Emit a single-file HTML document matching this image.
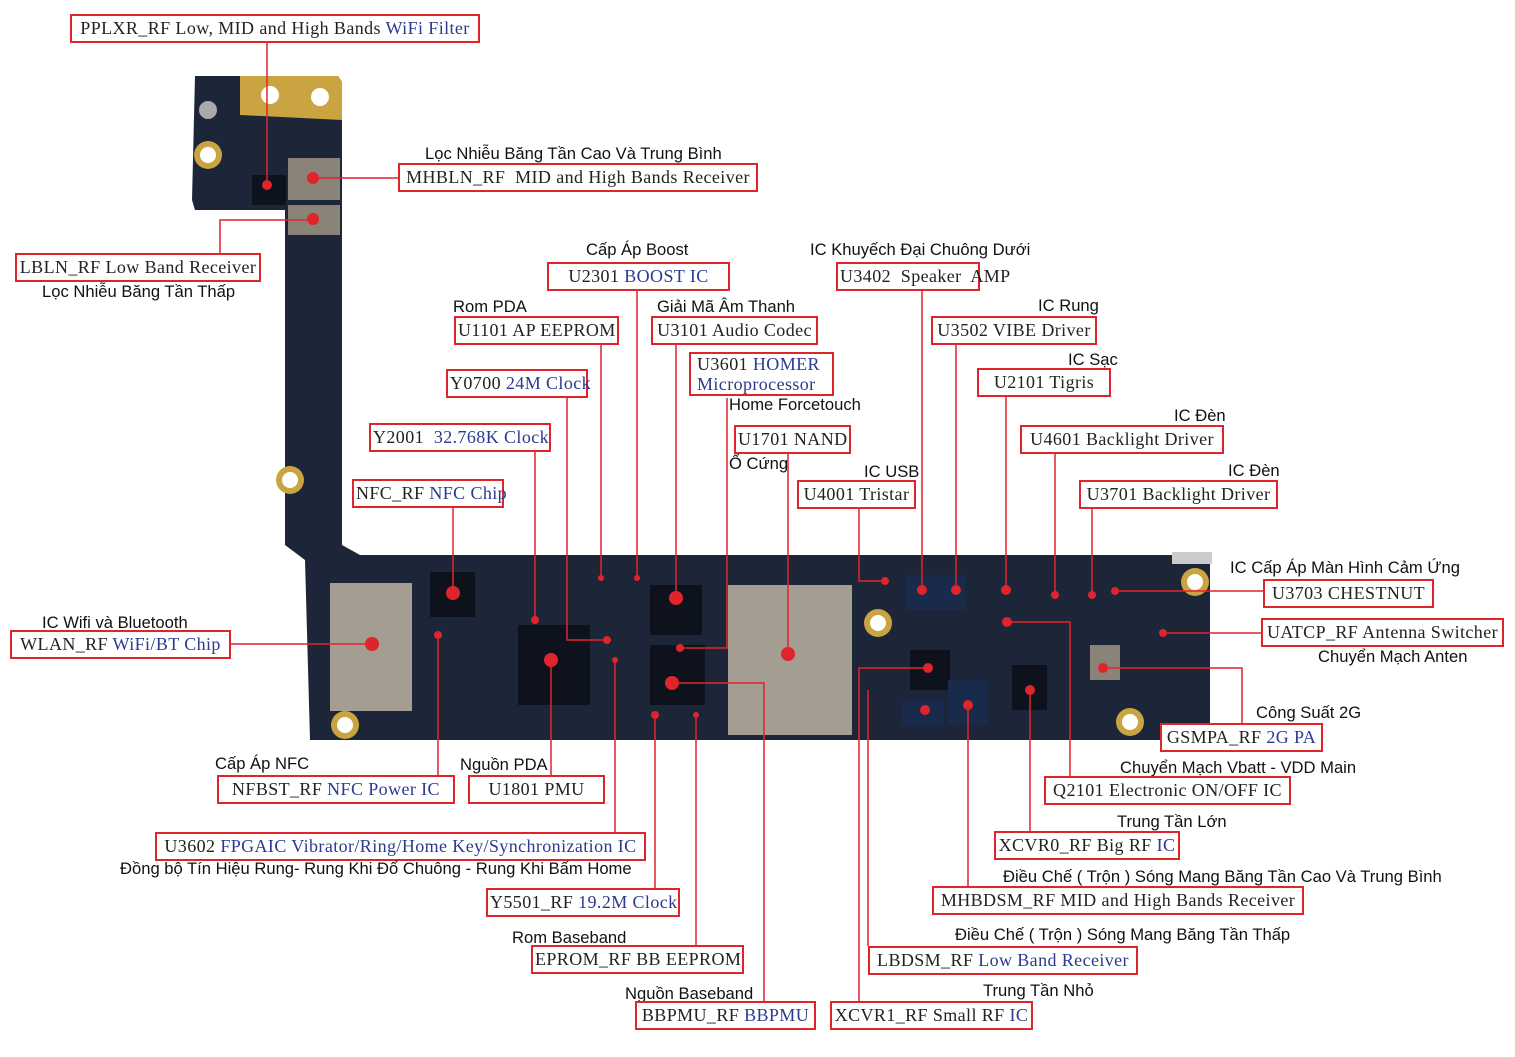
<!DOCTYPE html>
<html><head><meta charset="utf-8"><style>
body{margin:0;background:#fff;}
#c{position:relative;width:1515px;height:1057px;overflow:hidden;background:#fff;}
.b{position:absolute;border:2px solid #e0242b;background:#fff;font-family:"Liberation Serif",serif;font-size:18px;letter-spacing:.4px;color:#222;height:29px;line-height:25px;padding:0 2px;white-space:nowrap;box-sizing:border-box;text-align:center;overflow:visible;}
.b i{font-style:normal;color:#2b3a8f;}
.t{position:absolute;font-family:"Liberation Sans","Noto Sans CJK SC",sans-serif;font-size:16.6px;color:#111;white-space:nowrap;}
svg{position:absolute;left:0;top:0;}
</style></head><body><div id="c">
<svg width="1515" height="1057">
<path d="M195 76 L338 76 L342 82 L342 545 L360 555 L1210 555 L1210 740 L310 740 L305 560 L285 545 L285 210 L195 210 L192 200 Z" fill="#1d2538"/>
<path d="M240 76 L338 76 L342 82 L342 120 L240 115 Z" fill="#c9a440"/>
<circle cx="208" cy="155" r="14" fill="#c9a440"/><circle cx="208" cy="155" r="8" fill="#fff"/>
<circle cx="270" cy="95" r="9" fill="#fff"/><circle cx="320" cy="97" r="9" fill="#fff"/>
<circle cx="208" cy="110" r="9" fill="#aaa"/>
<circle cx="290" cy="480" r="14" fill="#c9a440"/><circle cx="290" cy="480" r="8" fill="#fff"/>
<rect x="288" y="158" width="52" height="42" fill="#8a8478"/>
<rect x="288" y="205" width="52" height="30" fill="#8a8478"/>
<rect x="252" y="175" width="34" height="30" fill="#0e121c"/>
<rect x="330" y="583" width="82" height="128" fill="#a39d92"/>
<rect x="728" y="585" width="124" height="150" fill="#a39d92"/>
<rect x="430" y="572" width="45" height="45" fill="#0e121c"/>
<rect x="518" y="625" width="72" height="80" fill="#0e121c"/>
<rect x="650" y="585" width="52" height="50" fill="#0e121c"/>
<rect x="650" y="645" width="55" height="60" fill="#0e121c"/>
<rect x="905" y="575" width="60" height="35" fill="#1a2a4a"/>
<rect x="910" y="650" width="40" height="40" fill="#0e121c"/>
<rect x="948" y="680" width="40" height="45" fill="#1a2a4a"/>
<rect x="902" y="700" width="42" height="25" fill="#1a2a4a"/>
<rect x="1012" y="665" width="35" height="45" fill="#0e121c"/>
<rect x="1090" y="645" width="30" height="35" fill="#8a8478"/>
<circle cx="878" cy="623" r="14" fill="#c9a440"/><circle cx="878" cy="623" r="8" fill="#fff"/>
<circle cx="345" cy="725" r="14" fill="#c9a440"/><circle cx="345" cy="725" r="8" fill="#fff"/>
<circle cx="1130" cy="722" r="14" fill="#c9a440"/><circle cx="1130" cy="722" r="8" fill="#fff"/>
<circle cx="1195" cy="582" r="14" fill="#c9a440"/><circle cx="1195" cy="582" r="8" fill="#fff"/>
<rect x="1172" y="552" width="40" height="12" fill="#ccc"/>
<g fill="none" stroke="#e0242b" stroke-width="1.5">
<path d="M267 43V185"/><path d="M313 178H398"/><path d="M220 253V220H313"/>
<path d="M637 291V578"/><path d="M922 291V590"/><path d="M601 345V578"/><path d="M676 345V598"/>
<path d="M956 345V590"/><path d="M727 398V648H680"/><path d="M1006 397V590"/>
<path d="M567 398V640H607"/><path d="M535 452V620"/><path d="M788 454V654"/>
<path d="M1055 454V595"/><path d="M453 508V593"/><path d="M859 509V581H885"/>
<path d="M1092 509V595"/><path d="M1263 591H1115"/><path d="M1261 633H1163"/>
<path d="M231 644H372"/><path d="M1242 723V668H1103"/><path d="M1070 776V622H1007"/>
<path d="M1030 831V690"/><path d="M968 886V705"/><path d="M859 1001V668H928"/>
<path d="M764 1001V683H672"/><path d="M696 945V715"/><path d="M655 888V715"/>
<path d="M615 832V660"/><path d="M438 775V635"/><path d="M551 775V660"/>
<path d="M868 946V690"/>
</g>
<g fill="#e0242b">
<circle cx="267" cy="185" r="5"/><circle cx="313" cy="178" r="6"/><circle cx="313" cy="219" r="6"/>
<circle cx="637" cy="578" r="3"/><circle cx="922" cy="590" r="5"/><circle cx="601" cy="578" r="3"/>
<circle cx="676" cy="598" r="7"/><circle cx="956" cy="590" r="5"/><circle cx="680" cy="648" r="4"/>
<circle cx="1006" cy="590" r="5"/><circle cx="607" cy="640" r="4"/><circle cx="535" cy="620" r="4"/>
<circle cx="788" cy="654" r="7"/><circle cx="1055" cy="595" r="4"/><circle cx="453" cy="593" r="7"/>
<circle cx="885" cy="581" r="4"/><circle cx="1092" cy="595" r="4"/><circle cx="1115" cy="591" r="4"/>
<circle cx="1163" cy="633" r="4"/><circle cx="372" cy="644" r="7"/><circle cx="1103" cy="668" r="5"/>
<circle cx="1007" cy="622" r="5"/><circle cx="1030" cy="690" r="5"/><circle cx="968" cy="705" r="5"/>
<circle cx="928" cy="668" r="5"/><circle cx="672" cy="683" r="7"/><circle cx="696" cy="715" r="3"/>
<circle cx="655" cy="715" r="4"/><circle cx="615" cy="660" r="3"/><circle cx="438" cy="635" r="4"/>
<circle cx="551" cy="660" r="7"/><circle cx="925" cy="710" r="5"/>
</g>
</svg>
<div class="b" style="left:70px;top:14px;width:410px">PPLXR_RF Low, MID and High Bands <i>WiFi Filter</i></div>
<div class="t" style="left:425px;top:144px">Lọc Nhiễu Băng Tần Cao Và Trung Bình</div>
<div class="b" style="left:398px;top:163px;width:360px">MHBLN_RF&nbsp; MID and High Bands Receiver</div>
<div class="b" style="left:15px;top:253px;width:246px">LBLN_RF Low Band Receiver</div>
<div class="t" style="left:42px;top:282px">Lọc Nhiễu Băng Tần Thấp</div>
<div class="t" style="left:586px;top:240px">Cấp Áp Boost</div>
<div class="b" style="left:547px;top:262px;width:183px">U2301 <i>BOOST IC</i></div>
<div class="t" style="left:810px;top:240px">IC Khuyếch Đại Chuông Dưới</div>
<div class="b" style="left:836px;top:262px;width:144px">U3402&nbsp; Speaker&nbsp; AMP</div>
<div class="t" style="left:453px;top:297px">Rom PDA</div>
<div class="b" style="left:454px;top:316px;width:165px">U1101 AP EEPROM</div>
<div class="t" style="left:657px;top:297px">Giải Mã Âm Thanh</div>
<div class="b" style="left:651px;top:316px;width:167px">U3101 Audio Codec</div>
<div class="t" style="left:1038px;top:296px">IC Rung</div>
<div class="b" style="left:931px;top:316px;width:166px">U3502 VIBE Driver</div>
<div class="b" style="left:689px;top:352px;width:145px;height:44px;line-height:20px;text-align:left;padding-left:6px">U3601 <i>HOMER</i><br><i>Microprocessor</i></div>
<div class="t" style="left:729px;top:395px">Home Forcetouch</div>
<div class="t" style="left:1068px;top:350px">IC Sạc</div>
<div class="b" style="left:977px;top:368px;width:134px">U2101 Tigris</div>
<div class="b" style="left:446px;top:369px;width:142px">Y0700 <i>24M Clock</i></div>
<div class="b" style="left:369px;top:423px;width:182px">Y2001&nbsp; <i>32.768K Clock</i></div>
<div class="b" style="left:734px;top:425px;width:117px">U1701 NAND</div>
<div class="t" style="left:729px;top:454px">Ổ Cứng</div>
<div class="t" style="left:1174px;top:406px">IC Đèn</div>
<div class="b" style="left:1020px;top:425px;width:204px">U4601 Backlight Driver</div>
<div class="b" style="left:352px;top:479px;width:152px">NFC_RF <i>NFC Chip</i></div>
<div class="t" style="left:864px;top:462px">IC USB</div>
<div class="b" style="left:797px;top:480px;width:119px">U4001 Tristar</div>
<div class="t" style="left:1228px;top:461px">IC Đèn</div>
<div class="b" style="left:1079px;top:480px;width:199px">U3701 Backlight Driver</div>
<div class="t" style="left:1230px;top:558px">IC Cấp Áp Màn Hình Cảm Ứng</div>
<div class="b" style="left:1263px;top:579px;width:171px">U3703 CHESTNUT</div>
<div class="b" style="left:1261px;top:618px;width:243px">UATCP_RF Antenna Switcher</div>
<div class="t" style="left:1318px;top:647px">Chuyển Mạch Anten</div>
<div class="t" style="left:42px;top:613px">IC Wifi và Bluetooth</div>
<div class="b" style="left:10px;top:630px;width:221px">WLAN_RF <i>WiFi/BT Chip</i></div>
<div class="t" style="left:1256px;top:703px">Công Suất 2G</div>
<div class="b" style="left:1160px;top:723px;width:163px">GSMPA_RF <i>2G PA</i></div>
<div class="t" style="left:1120px;top:758px">Chuyển Mạch Vbatt - VDD Main</div>
<div class="b" style="left:1044px;top:776px;width:247px">Q2101 Electronic ON/OFF IC</div>
<div class="t" style="left:1117px;top:812px">Trung Tần Lớn</div>
<div class="b" style="left:994px;top:831px;width:186px">XCVR0_RF Big RF <i>IC</i></div>
<div class="t" style="left:1003px;top:867px">Điều Chế ( Trộn ) Sóng Mang Băng Tần Cao Và Trung Bình</div>
<div class="b" style="left:932px;top:886px;width:372px">MHBDSM_RF MID and High Bands Receiver</div>
<div class="t" style="left:955px;top:925px">Điều Chế ( Trộn ) Sóng Mang Băng Tần Thấp</div>
<div class="b" style="left:868px;top:946px;width:270px">LBDSM_RF <i>Low Band Receiver</i></div>
<div class="t" style="left:983px;top:981px">Trung Tần Nhỏ</div>
<div class="b" style="left:830px;top:1001px;width:203px">XCVR1_RF Small RF <i>IC</i></div>
<div class="t" style="left:625px;top:984px">Nguồn Baseband</div>
<div class="b" style="left:635px;top:1001px;width:181px">BBPMU_RF <i>BBPMU</i></div>
<div class="t" style="left:512px;top:928px">Rom Baseband</div>
<div class="b" style="left:531px;top:945px;width:213px">EPROM_RF BB EEPROM</div>
<div class="b" style="left:486px;top:888px;width:194px">Y5501_RF <i>19.2M Clock</i></div>
<div class="b" style="left:155px;top:832px;width:491px">U3602 <i>FPGAIC Vibrator/Ring/Home Key/Synchronization IC</i></div>
<div class="t" style="left:120px;top:859px">Đồng bộ Tín Hiệu Rung- Rung Khi Đổ Chuông - Rung Khi Bấm Home</div>
<div class="t" style="left:215px;top:754px">Cấp Áp NFC</div>
<div class="b" style="left:217px;top:775px;width:238px">NFBST_RF <i>NFC Power IC</i></div>
<div class="t" style="left:460px;top:755px">Nguồn PDA</div>
<div class="b" style="left:468px;top:775px;width:137px">U1801 PMU</div>
</div></body></html>
